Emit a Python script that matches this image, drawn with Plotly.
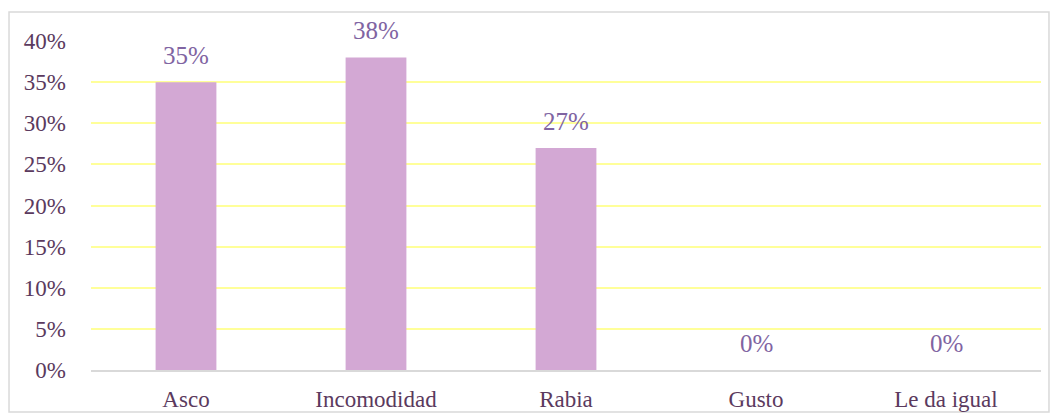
import plotly.graph_objects as go

categorias = ["Asco", "Incomodidad", "Rabia", "Gusto", "Le da igual"]
valores = [0.35, 0.38, 0.27, 0.0, 0.0]
etiquetas = ["35%", "38%", "27%", "0%", "0%"]

FONT = "Liberation Serif, Times New Roman, serif"

fig = go.Figure()
fig.add_trace(go.Bar(
    x=categorias, y=valores,
    marker=dict(color="#D3A8D4", line=dict(width=0)),
    width=0.32,
    hoverinfo="skip",
))

# etiquetas de datos encima de cada barra
for c, v, t in zip(categorias, valores, etiquetas):
    fig.add_annotation(
        x=c, y=v, text=t, showarrow=False,
        yanchor="bottom", yshift=11,
        font=dict(family=FONT, size=25, color="#8064A2"),
    )

# marco exterior del gráfico
fig.add_shape(
    type="rect", xref="paper", yref="paper",
    x0=-0.0863, x1=1.0084, y0=-0.1277, y1=1.088,
    line=dict(color="#D9D9D9", width=1.5), layer="below",
)

fig.update_layout(
    width=1057, height=420,
    margin=dict(l=91, r=16, t=41, b=50),
    paper_bgcolor="white", plot_bgcolor="white",
    showlegend=False,
    font=dict(family=FONT, size=23, color="#5B3A5E"),
    xaxis=dict(
        showgrid=False, showline=True, linecolor="#D9D9D9", linewidth=2,
        ticks="", tickfont=dict(size=23), ticklabelstandoff=7, automargin=False,
    ),
    yaxis=dict(
        range=[0, 0.40], tickvals=[0, 0.05, 0.10, 0.15, 0.20, 0.25, 0.30, 0.35, 0.40],
        tickformat=".0%", showgrid=True, gridcolor="#FFFF99", gridwidth=1.5,
        zeroline=False, showline=False, ticks="", ticklabelstandoff=24,
        tickfont=dict(size=23), automargin=False,
    ),
)

# quitar el margen por defecto del body para que la figura empiece en (0,0)
fig.write_html("out.html", config={"displayModeBar": False},
               post_script="document.body.style.margin='0';")
